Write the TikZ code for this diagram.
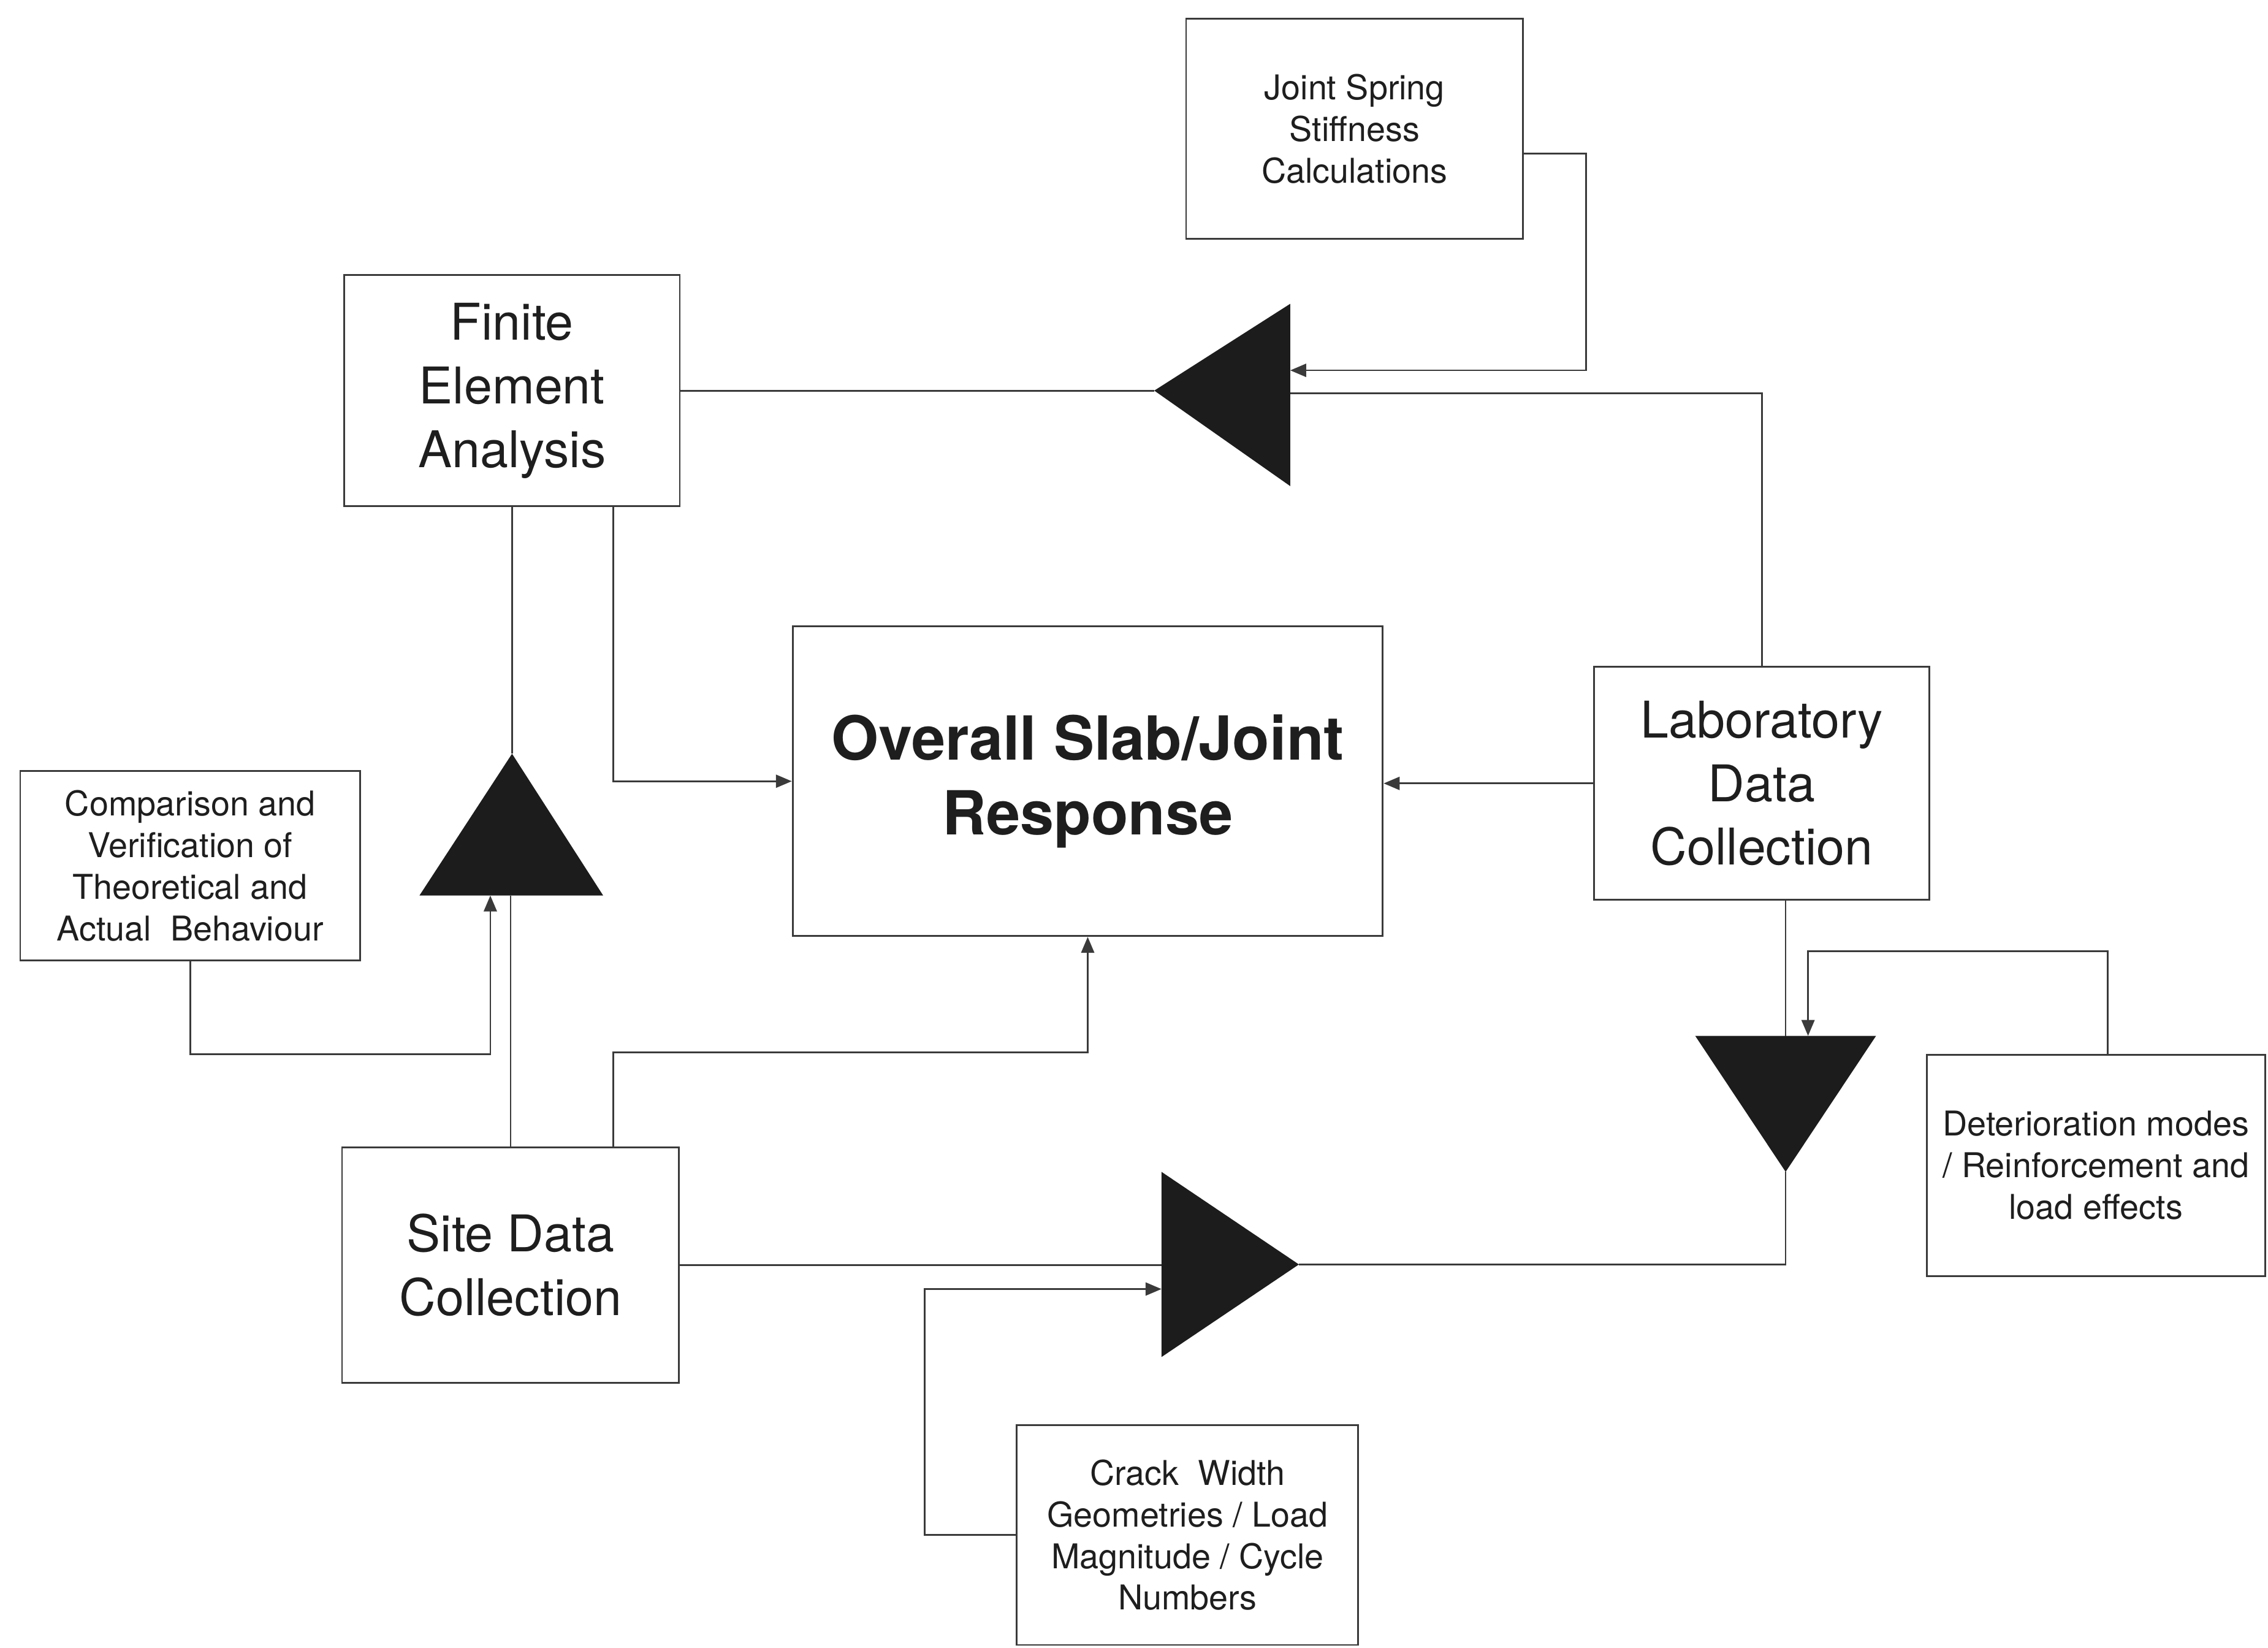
\documentclass[tikz,border=0pt]{standalone}
\usepackage{fontspec}
\setmainfont{TeX Gyre Heros}
\usetikzlibrary{arrows.meta,calc}
\definecolor{ln}{HTML}{3A3A3A}
\definecolor{tri}{HTML}{1C1C1C}
\definecolor{tx}{HTML}{1E1E1E}
\tikzset{
  box/.style={draw=ln, line width=0.6pt, inner sep=0pt, align=center, text=tx},
  bigtxt/.style={font=\fontsize{17.5}{22}\selectfont},
  smalltxt/.style={font=\fontsize{11.8}{14.4}\selectfont},
  boldtxt/.style={font=\fontsize{21}{26}\selectfont\bfseries},
  conn/.style={draw=ln, line width=0.6pt},
  arr/.style={conn, -{Triangle[length=5.5pt,width=4.5pt]}},
  trifill/.style={fill=tri, draw=none}
}
\begin{document}
\begin{tikzpicture}[x=0.5pt,y=-0.5pt]
\useasboundingbox (0,0) rectangle (1568,1139);
\fill[white] (0,0) rectangle (1568,1139);

% boxes
\node[box,smalltxt,minimum width=116.5pt,minimum height=76pt] (js) at (936.5,89) {Joint Spring\\Stiffness\\Calculations};
\node[box,bigtxt,minimum width=116pt,minimum height=80pt] (fea) at (354,270) {Finite\\Element\\Analysis};
\node[box,boldtxt,minimum width=204pt,minimum height=107pt] (ov) at (752,540) {Overall Slab/Joint\\Response};
\node[box,bigtxt,minimum width=116pt,minimum height=80.5pt] (lab) at (1218,541.5) {Laboratory\\Data\\Collection};
\node[box,smalltxt,minimum width=117.5pt,minimum height=65.5pt] (cmp) at (131.5,598.5) {Comparison and\\Verification of\\Theoretical and\\Actual\ \ Behaviour};
\node[box,bigtxt,minimum width=116.5pt,minimum height=81.5pt] (site) at (353,874.5) {Site Data\\Collection};
\node[box,smalltxt,minimum width=117pt,minimum height=76.5pt] (det) at (1449,805.5) {Deterioration modes\\/ Reinforcement and\\load effects};
\node[box,smalltxt,minimum width=118pt,minimum height=76pt] (crk) at (821,1061) {Crack\ \ Width\\Geometries / Load\\Magnitude / Cycle\\Numbers};

% triangle reference points
\coordinate (t1tip) at (798,270);
\coordinate (t1top) at (892,210);
\coordinate (t1bot) at (892,336);
\coordinate (t1lab) at (892,272);
\coordinate (t1in) at (892,256);

\coordinate (t2apex) at (354,521);
\coordinate (t2l) at (290,619);
\coordinate (t2r) at (417,619);
\coordinate (t2in) at (339,619);

\coordinate (t3l) at (1172,716);
\coordinate (t3r) at (1297,716);
\coordinate (t3apex) at (1234.5,810);
\coordinate (t3in) at (1250,716);

\coordinate (t4top) at (803,810);
\coordinate (t4bot) at (803,938);
\coordinate (t4tip) at (898,874);
\coordinate (t4in) at (803,891);

% triangles
\fill[trifill] (t1tip) -- (t1top) -- (t1bot) -- cycle;
\fill[trifill] (t2apex) -- (t2l) -- (t2r) -- cycle;
\fill[trifill] (t3l) -- (t3r) -- (t3apex) -- cycle;
\fill[trifill] (t4top) -- (t4tip) -- (t4bot) -- cycle;

% connectors: top loop
\draw[conn] (fea.east) -- (t1tip);
\draw[conn] (lab.north) |- (t1lab);
\draw[arr] ([yshift=-8.5pt]js.east) -- ++(43,0) |- (t1in);

% left column
\draw[conn] (fea.south) -- (fea.south |- t2apex);
\draw[conn] (site.north) -- (site.north |- t2l);
\draw[arr] (cmp.south) -- ++(0,64) -| (t2in);

% into overall response
\draw[arr] ([xshift=35pt]fea.south) |- (ov.west);
\draw[arr] (lab.west) -- (lab.west -| ov.east);
\draw[arr] ([xshift=35.5pt]site.north) -- ++(0,-65) -| (ov.south);

% bottom loop
\draw[conn] (site.east) -- (site.east -| t4top);
\draw[conn] (t4tip) -| (t3apex);
\draw[arr] (crk.west) -- ++(-63,0) |- (t4in);
\draw[conn] ([xshift=8.25pt]lab.south) -- ([xshift=8.25pt]lab.south |- t3l);
\draw[arr] ([xshift=4pt]det.north) -- ++(0,-71) -| (t3in);
\end{tikzpicture}
\end{document}
